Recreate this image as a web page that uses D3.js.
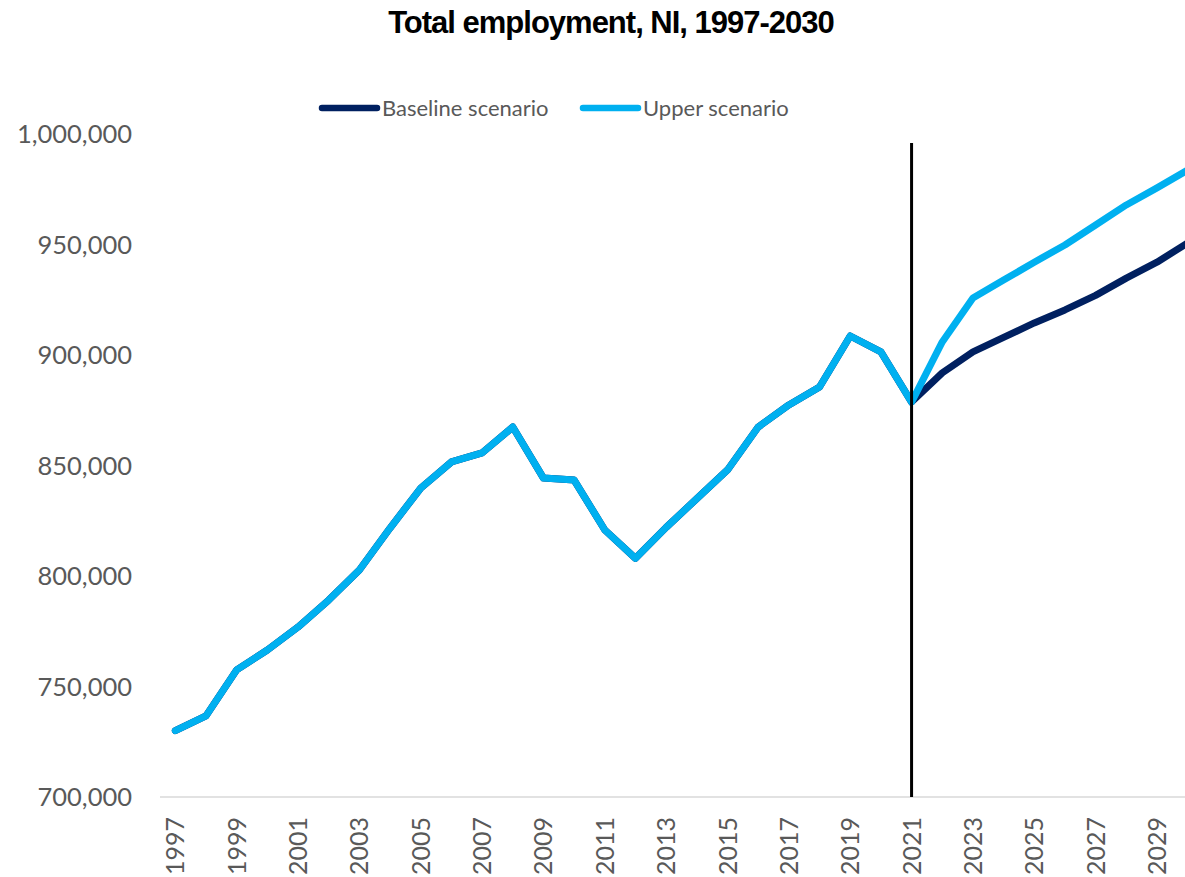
<!DOCTYPE html>
<html>
<head>
<meta charset="utf-8">
<script src="https://cdn.jsdelivr.net/npm/d3@7"></script>
<style>
  html, body { margin: 0; padding: 0; background: #ffffff; }
  svg { display: block; }
</style>
</head>
<body>
<svg id="chart" width="1185" height="877"></svg>
<script>
// Years on the category axis
const years = d3.range(1997, 2031);

// Outturn employment, 1997-2021 (shared by both scenarios)
const history = [
  730000, 736700, 757500, 766500, 776900, 789100, 802700, 821700, 839800,
  851600, 855700, 867400, 844300, 843400, 820800, 808000, 822000, 835000,
  848000, 867400, 877400, 885500, 908600, 901400, 878700
];

// Projections, 2021-2030
const baseline = [878700, 891900, 901400, 908000, 914500, 920400, 927000, 934800, 942000, 950700];
const upper    = [878700, 905900, 925800, 933900, 942000, 949800, 958800, 967900, 975600, 983700];

// Value axis ticks
const yTicks = [700000, 750000, 800000, 850000, 900000, 950000, 1000000];

const seriesNames = ["Baseline scenario", "Upper scenario"];
const colors = { "Baseline scenario": "#002060", "Upper scenario": "#00B0F0" };

const svg = d3.select("#chart");
const labelFont = "Lato, 'Open Sans', sans-serif";
const labelColor = "#595959";

const x = d3.scaleBand().domain(years).range([160, 1203]).padding(0);
const xc = d => x(d) + x.bandwidth() / 2;
const y = d3.scaleLinear().domain([700000, 1000000]).range([797, 134]);

// Title
svg.append("text")
  .attr("x", 611)
  .attr("y", 33)
  .attr("text-anchor", "middle")
  .style("font-family", "'Liberation Sans', Arial, sans-serif")
  .style("font-weight", "bold")
  .style("font-size", "31px")
  .style("letter-spacing", "-1px")
  .attr("fill", "#000000")
  .text("Total employment, NI, 1997-2030");

// Value axis labels
const yAxis = d3.axisLeft(y)
  .tickValues(yTicks)
  .tickFormat(d3.format(","))
  .tickSize(0)
  .tickPadding(0);

const yg = svg.append("g")
  .attr("transform", "translate(132,0)")
  .call(yAxis);
yg.select(".domain").remove();
yg.selectAll("text")
  .style("font-family", labelFont)
  .style("font-size", "25.5px")
  .attr("fill", labelColor)
  .attr("dy", "0.35em");

// Category axis line
svg.append("line")
  .attr("x1", 160).attr("x2", 1185)
  .attr("y1", y(700000)).attr("y2", y(700000))
  .attr("stroke", "#D9D9D9")
  .attr("stroke-width", 1.5);

// Category labels, every other year
const xLabels = years.filter((d, i) => i % 2 === 0);
svg.append("g")
  .selectAll("text")
  .data(xLabels)
  .join("text")
  .attr("transform", d => `translate(${xc(d)},817) rotate(-90)`)
  .attr("text-anchor", "end")
  .attr("dy", "0.36em")
  .style("font-family", labelFont)
  .style("font-size", "25px")
  .attr("fill", labelColor)
  .text(d => d);

// Build full series: outturn plus each projection
const histYears = years.slice(0, history.length);
const projYears = years.slice(history.length - 1);
const makeSeries = proj => histYears.map((yr, i) => ({ year: yr, value: history[i] }))
  .concat(projYears.slice(1).map((yr, i) => ({ year: yr, value: proj[i + 1] })));

const series = [
  { name: "Baseline scenario", values: makeSeries(baseline) },
  { name: "Upper scenario", values: makeSeries(upper) }
];

const line = d3.line()
  .x(d => xc(d.year))
  .y(d => y(d.value));

svg.append("g")
  .selectAll("path")
  .data(series)
  .join("path")
  .attr("d", d => line(d.values))
  .attr("fill", "none")
  .attr("stroke", d => colors[d.name])
  .attr("stroke-width", 7)
  .attr("stroke-linejoin", "round")
  .attr("stroke-linecap", "round");

// Marker for the last outturn year
svg.append("line")
  .attr("x1", xc(2021)).attr("x2", xc(2021))
  .attr("y1", 143).attr("y2", y(700000))
  .attr("stroke", "#000000")
  .attr("stroke-width", 3);

// Legend
const legendItems = [
  { name: seriesNames[0], x: 322 },
  { name: seriesNames[1], x: 583 }
];
const lg = svg.append("g").selectAll("g").data(legendItems).join("g")
  .attr("transform", d => `translate(${d.x},108)`);
lg.append("line")
  .attr("x1", 0).attr("x2", 55)
  .attr("y1", 0).attr("y2", 0)
  .attr("stroke", d => colors[d.name])
  .attr("stroke-width", 6.5)
  .attr("stroke-linecap", "round");
lg.append("text")
  .attr("x", 60)
  .attr("dy", "0.35em")
  .style("font-family", labelFont)
  .style("font-size", "22px")
  .attr("fill", labelColor)
  .text(d => d.name);
</script>
</body>
</html>
